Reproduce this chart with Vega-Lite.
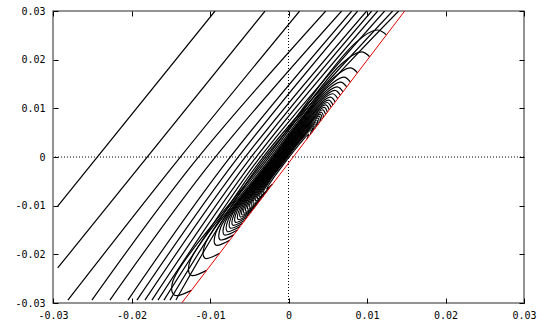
{
  "$schema": "https://vega.github.io/schema/vega-lite/v6.json",
  "width": 471,
  "height": 292,
  "autosize": "none",
  "padding": {"left": 53, "top": 11, "right": 21, "bottom": 24},
  "background": "white",
  "config": {
    "view": {"stroke": "#707070", "strokeWidth": 1.5},
    "axis": {
      "labelFont": "DejaVu Sans Mono",
      "labelFontSize": 10,
      "labelColor": "#000",
      "labelFlush": false,
      "labelOverlap": false,
      "tickColor": "#000",
      "tickSize": -5,
      "domain": false,
      "grid": false,
      "title": null
    }
  },
  "datasets": {
    "contours": [
      {"c":"L1","i":1,"x":-0.0294,"y":-0.01007},{"c":"L1","i":2,"x":-0.00936,"y":0.03},
      {"c":"L2","i":1,"x":-0.0294,"y":-0.0228},{"c":"L2","i":2,"x":-0.00299,"y":0.03},
      {"c":"L3","i":1,"x":-0.0281,"y":-0.0294},{"c":"L3","i":2,"x":-0.01427,"y":-0.001},{"c":"L3","i":3,"x":0.00142,"y":0.03},
      {"c":"L4","i":1,"x":-0.02504,"y":-0.0294},{"c":"L4","i":2,"x":-0.01197,"y":-0.001},{"c":"L4","i":3,"x":0.00474,"y":0.03},
      {"c":"L5","i":1,"x":-0.02275,"y":-0.0294},{"c":"L5","i":2,"x":-0.00981,"y":-0.001},{"c":"L5","i":3,"x":0.00677,"y":0.03},
      {"c":"L6","i":1,"x":-0.02045,"y":-0.0294},{"c":"L6","i":2,"x":-0.0079,"y":-0.001},{"c":"L6","i":3,"x":0.00805,"y":0.03},
      {"c":"L7","i":1,"x":-0.01931,"y":-0.0294},{"c":"L7","i":2,"x":-0.00688,"y":-0.001},{"c":"L7","i":3,"x":0.00881,"y":0.03},
      {"c":"L8","i":1,"x":-0.01829,"y":-0.0294},{"c":"L8","i":2,"x":-0.00598,"y":-0.001},{"c":"L8","i":3,"x":0.00996,"y":0.03},
      {"c":"L9","i":1,"x":-0.0174,"y":-0.0294},{"c":"L9","i":2,"x":-0.00522,"y":-0.001},{"c":"L9","i":3,"x":0.0106,"y":0.03},
      {"c":"L10","i":1,"x":-0.01663,"y":-0.0294},{"c":"L10","i":2,"x":-0.00458,"y":-0.001},{"c":"L10","i":3,"x":0.01136,"y":0.03},
      {"c":"L11","i":1,"x":-0.01587,"y":-0.0294},{"c":"L11","i":2,"x":-0.00407,"y":-0.001},{"c":"L11","i":3,"x":0.01225,"y":0.03},
      {"c":"L12","i":1,"x":-0.0151,"y":-0.0294},{"c":"L12","i":2,"x":-0.00369,"y":-0.001},{"c":"L12","i":3,"x":0.01327,"y":0.03},
      {"c":"L13","i":1,"x":-0.01434,"y":-0.0294},{"c":"L13","i":2,"x":-0.00344,"y":-0.001},{"c":"L13","i":3,"x":0.01404,"y":0.03},
      {"c":"H1","i":1,"x":-0.01237,"y":-0.0274},{"c":"H1","i":2,"x":-0.0145,"y":-0.0284},{"c":"H1","i":3,"x":-0.0148,"y":-0.0259},{"c":"H1","i":4,"x":-0.00318,"y":-0.001},{"c":"H1","i":5,"x":0.00863,"y":0.0236},{"c":"H1","i":6,"x":0.0113,"y":0.0261},{"c":"H1","i":7,"x":0.01248,"y":0.0251},
      {"c":"H2","i":1,"x":-0.01043,"y":-0.0233},{"c":"H2","i":2,"x":-0.01243,"y":-0.0243},{"c":"H2","i":3,"x":-0.01263,"y":-0.0218},{"c":"H2","i":4,"x":-0.00293,"y":-0.001},{"c":"H2","i":5,"x":0.00673,"y":0.0191},{"c":"H2","i":6,"x":0.00929,"y":0.0216},{"c":"H2","i":7,"x":0.01035,"y":0.0206},
      {"c":"H3","i":1,"x":-0.00877,"y":-0.0198},{"c":"H3","i":2,"x":-0.01064,"y":-0.0208},{"c":"H3","i":3,"x":-0.01072,"y":-0.0183},{"c":"H3","i":4,"x":-0.00267,"y":-0.001},{"c":"H3","i":5,"x":0.00542,"y":0.0158},{"c":"H3","i":6,"x":0.00786,"y":0.0183},{"c":"H3","i":7,"x":0.00879,"y":0.0173},
      {"c":"H4","i":1,"x":-0.00749,"y":-0.0171},{"c":"H4","i":2,"x":-0.00927,"y":-0.0181},{"c":"H4","i":3,"x":-0.00926,"y":-0.0156},{"c":"H4","i":4,"x":-0.00248,"y":-0.001},{"c":"H4","i":5,"x":0.0047,"y":0.0139},{"c":"H4","i":6,"x":0.00706,"y":0.0164},{"c":"H4","i":7,"x":0.00789,"y":0.0154},
      {"c":"G1","i":1,"x":-0.00697,"y":-0.016},{"c":"G1","i":2,"x":-0.00871,"y":-0.017},{"c":"G1","i":3,"x":-0.00865,"y":-0.0145},{"c":"G1","i":4,"x":-0.00239,"y":-0.001},{"c":"G1","i":5,"x":0.00432,"y":0.0129},{"c":"G1","i":6,"x":0.00663,"y":0.0154},{"c":"G1","i":7,"x":0.00742,"y":0.0144},
      {"c":"H5","i":1,"x":-0.0065,"y":-0.015},{"c":"H5","i":2,"x":-0.00818,"y":-0.016},{"c":"H5","i":3,"x":-0.00809,"y":-0.0135},{"c":"H5","i":4,"x":-0.00229,"y":-0.001},{"c":"H5","i":5,"x":0.00393,"y":0.0119},{"c":"H5","i":6,"x":0.00621,"y":0.0144},{"c":"H5","i":7,"x":0.00694,"y":0.0134},
      {"c":"G2","i":1,"x":-0.00617,"y":-0.0143},{"c":"G2","i":2,"x":-0.0078,"y":-0.0153},{"c":"G2","i":3,"x":-0.00766,"y":-0.0128},{"c":"G2","i":4,"x":-0.00219,"y":-0.001},{"c":"G2","i":5,"x":0.0037,"y":0.0112},{"c":"G2","i":6,"x":0.00592,"y":0.0137},{"c":"G2","i":7,"x":0.00661,"y":0.0127},
      {"c":"H6","i":1,"x":-0.00584,"y":-0.0136},{"c":"H6","i":2,"x":-0.00743,"y":-0.0146},{"c":"H6","i":3,"x":-0.00725,"y":-0.0121},{"c":"H6","i":4,"x":-0.0021,"y":-0.001},{"c":"H6","i":5,"x":0.00345,"y":0.0105},{"c":"H6","i":6,"x":0.00563,"y":0.013},{"c":"H6","i":7,"x":0.00628,"y":0.012},
      {"c":"G3","i":1,"x":-0.00555,"y":-0.013},{"c":"G3","i":2,"x":-0.0071,"y":-0.014},{"c":"G3","i":3,"x":-0.00686,"y":-0.0115},{"c":"G3","i":4,"x":-0.002,"y":-0.001},{"c":"G3","i":5,"x":0.00322,"y":0.0098},{"c":"G3","i":6,"x":0.00535,"y":0.0123},{"c":"G3","i":7,"x":0.00595,"y":0.0113},
      {"c":"H7","i":1,"x":-0.00527,"y":-0.0124},{"c":"H7","i":2,"x":-0.00676,"y":-0.0134},{"c":"H7","i":3,"x":-0.0065,"y":-0.0109},{"c":"H7","i":4,"x":-0.00191,"y":-0.001},{"c":"H7","i":5,"x":0.00301,"y":0.0092},{"c":"H7","i":6,"x":0.00512,"y":0.0117},{"c":"H7","i":7,"x":0.00566,"y":0.0107},
      {"c":"G4","i":1,"x":-0.00499,"y":-0.0118},{"c":"G4","i":2,"x":-0.00643,"y":-0.0128},{"c":"G4","i":3,"x":-0.00612,"y":-0.0103},{"c":"G4","i":4,"x":-0.00181,"y":-0.001},{"c":"G4","i":5,"x":0.00288,"y":0.0087},{"c":"G4","i":6,"x":0.00493,"y":0.0112},{"c":"G4","i":7,"x":0.00543,"y":0.0102},
      {"c":"H8","i":1,"x":-0.00475,"y":-0.0113},{"c":"H8","i":2,"x":-0.00615,"y":-0.0123},{"c":"H8","i":3,"x":-0.0058,"y":-0.0098},{"c":"H8","i":4,"x":-0.00172,"y":-0.001},{"c":"H8","i":5,"x":0.00272,"y":0.0082},{"c":"H8","i":6,"x":0.00473,"y":0.0107},{"c":"H8","i":7,"x":0.00519,"y":0.0097},
      {"c":"G5","i":1,"x":-0.00456,"y":-0.0109},{"c":"G5","i":2,"x":-0.00591,"y":-0.0119},{"c":"G5","i":3,"x":-0.00551,"y":-0.0094},{"c":"G5","i":4,"x":-0.00162,"y":-0.001},{"c":"G5","i":5,"x":0.00258,"y":0.0077},{"c":"G5","i":6,"x":0.00455,"y":0.0102},{"c":"G5","i":7,"x":0.00495,"y":0.0092},
      {"c":"H9","i":1,"x":-0.00437,"y":-0.0105},{"c":"H9","i":2,"x":-0.00567,"y":-0.0115},{"c":"H9","i":3,"x":-0.00524,"y":-0.009},{"c":"H9","i":4,"x":-0.00153,"y":-0.001},{"c":"H9","i":5,"x":0.00243,"y":0.0072},{"c":"H9","i":6,"x":0.00436,"y":0.0097},{"c":"H9","i":7,"x":0.00472,"y":0.0087},
      {"c":"G6","i":1,"x":-0.00418,"y":-0.0101},{"c":"G6","i":2,"x":-0.00543,"y":-0.0111},{"c":"G6","i":3,"x":-0.00495,"y":-0.0086},{"c":"G6","i":4,"x":-0.00143,"y":-0.001},{"c":"G6","i":5,"x":0.00229,"y":0.0067},{"c":"G6","i":6,"x":0.00417,"y":0.0092},{"c":"G6","i":7,"x":0.00448,"y":0.0082},
      {"c":"H10","i":1,"x":-0.00399,"y":-0.0097},{"c":"H10","i":2,"x":-0.00519,"y":-0.0107},{"c":"H10","i":3,"x":-0.00467,"y":-0.0082},{"c":"H10","i":4,"x":-0.00133,"y":-0.001},{"c":"H10","i":5,"x":0.00219,"y":0.0063},{"c":"H10","i":6,"x":0.00404,"y":0.0088},{"c":"H10","i":7,"x":0.00429,"y":0.0078},
      {"c":"G7","i":1,"x":-0.0038,"y":-0.0093},{"c":"G7","i":2,"x":-0.00496,"y":-0.0103},{"c":"G7","i":3,"x":-0.00438,"y":-0.0078},{"c":"G7","i":4,"x":-0.00123,"y":-0.001},{"c":"G7","i":5,"x":0.0021,"y":0.0059},{"c":"G7","i":6,"x":0.0039,"y":0.0084},{"c":"G7","i":7,"x":0.0041,"y":0.0074},
      {"c":"H11","i":1,"x":-0.00361,"y":-0.0089},{"c":"H11","i":2,"x":-0.00473,"y":-0.0099},{"c":"H11","i":3,"x":-0.00411,"y":-0.0074},{"c":"H11","i":4,"x":-0.00114,"y":-0.001},{"c":"H11","i":5,"x":0.00199,"y":0.0055},{"c":"H11","i":6,"x":0.00375,"y":0.008},{"c":"H11","i":7,"x":0.00391,"y":0.007},
      {"c":"G8","i":1,"x":-0.00342,"y":-0.0085},{"c":"G8","i":2,"x":-0.00449,"y":-0.0095},{"c":"G8","i":3,"x":-0.00382,"y":-0.007},{"c":"G8","i":4,"x":-0.00104,"y":-0.001},{"c":"G8","i":5,"x":0.0019,"y":0.0051},{"c":"G8","i":6,"x":0.00361,"y":0.0076},{"c":"G8","i":7,"x":0.00372,"y":0.0066},
      {"c":"H12","i":1,"x":-0.00319,"y":-0.008},{"c":"H12","i":2,"x":-0.0042,"y":-0.009},{"c":"H12","i":3,"x":-0.00351,"y":-0.0065},{"c":"H12","i":4,"x":-0.00095,"y":-0.001},{"c":"H12","i":5,"x":0.0018,"y":0.0047},{"c":"H12","i":6,"x":0.00347,"y":0.0072},{"c":"H12","i":7,"x":0.00353,"y":0.0062},
      {"c":"G9","i":1,"x":-0.003,"y":-0.0076},{"c":"G9","i":2,"x":-0.00396,"y":-0.0086},{"c":"G9","i":3,"x":-0.00322,"y":-0.0061},{"c":"G9","i":4,"x":-0.00085,"y":-0.001},{"c":"G9","i":5,"x":0.00171,"y":0.0043},{"c":"G9","i":6,"x":0.00333,"y":0.0068},{"c":"G9","i":7,"x":0.00335,"y":0.0058},
      {"c":"H13","i":1,"x":-0.00281,"y":-0.0072},{"c":"H13","i":2,"x":-0.00373,"y":-0.0082},{"c":"H13","i":3,"x":-0.00295,"y":-0.0057},{"c":"H13","i":4,"x":-0.00076,"y":-0.001},{"c":"H13","i":5,"x":0.0016,"y":0.0039},{"c":"H13","i":6,"x":0.00318,"y":0.0064},{"c":"H13","i":7,"x":0.00316,"y":0.0054},
      {"c":"G10","i":1,"x":-0.00262,"y":-0.0068},{"c":"G10","i":2,"x":-0.00349,"y":-0.0078},{"c":"G10","i":3,"x":-0.00267,"y":-0.0053},{"c":"G10","i":4,"x":-0.00067,"y":-0.001},{"c":"G10","i":5,"x":0.0015,"y":0.0035},{"c":"G10","i":6,"x":0.00304,"y":0.006},{"c":"G10","i":7,"x":0.00297,"y":0.005},
      {"c":"H14","i":1,"x":-0.00243,"y":-0.0064},{"c":"H14","i":2,"x":-0.00325,"y":-0.0074},{"c":"H14","i":3,"x":-0.00239,"y":-0.0049},{"c":"H14","i":4,"x":-0.00057,"y":-0.001},{"c":"H14","i":5,"x":0.0014,"y":0.0031},{"c":"H14","i":6,"x":0.0029,"y":0.0056},{"c":"H14","i":7,"x":0.00278,"y":0.0046},
      {"c":"H15","i":1,"x":-0.00205,"y":-0.0056},{"c":"H15","i":2,"x":-0.00278,"y":-0.0066},{"c":"H15","i":3,"x":-0.00182,"y":-0.0041},{"c":"H15","i":4,"x":-0.00038,"y":-0.001},{"c":"H15","i":5,"x":0.00116,"y":0.0022},{"c":"H15","i":6,"x":0.00257,"y":0.0047},{"c":"H15","i":7,"x":0.00235,"y":0.0037}
    ],
    "red": [
      {"x": -0.0136, "y": -0.03},
      {"x": 0.0148, "y": 0.03}
    ],
    "zero": [{"v": 0}]
  },
  "resolve": {"axis": {"x": "independent", "y": "independent"}},
  "layer": [
    {
      "data": {"name": "zero"},
      "mark": {"type": "rule", "color": "#000", "strokeWidth": 1, "strokeDash": [1, 2]},
      "encoding": {
        "x": {
          "field": "v", "type": "quantitative",
          "scale": {"domain": [-0.03, 0.03], "nice": false, "zero": false},
          "axis": {
            "orient": "bottom",
            "values": [-0.03, -0.02, -0.01, 0, 0.01, 0.02, 0.03],
            "labelPadding": 12,
            "labelExpr": "abs(datum.value) < 1e-9 ? '0' : replace(format(datum.value, '.2f'), '\u2212', '-')"
          }
        }
      }
    },
    {
      "data": {"name": "zero"},
      "mark": {"type": "rule", "color": "#000", "strokeWidth": 1, "strokeDash": [1, 2]},
      "encoding": {
        "y": {
          "field": "v", "type": "quantitative",
          "scale": {"domain": [-0.03, 0.03], "nice": false, "zero": false},
          "axis": {
            "orient": "left",
            "values": [-0.03, -0.02, -0.01, 0, 0.01, 0.02, 0.03],
            "labelPadding": 13,
            "labelExpr": "abs(datum.value) < 1e-9 ? '0' : replace(format(datum.value, '.2f'), '\u2212', '-')"
          }
        }
      }
    },
    {
      "data": {"name": "contours"},
      "mark": {"type": "line", "color": "#000", "strokeWidth": 1.2, "interpolate": "catmull-rom", "clip": true},
      "encoding": {
        "x": {"field": "x", "type": "quantitative", "scale": {"domain": [-0.03, 0.03], "nice": false, "zero": false},
          "axis": {"orient": "top", "values": [-0.03, -0.02, -0.01, 0, 0.01, 0.02, 0.03], "labels": false}},
        "y": {"field": "y", "type": "quantitative", "scale": {"domain": [-0.03, 0.03], "nice": false, "zero": false},
          "axis": {"orient": "right", "values": [-0.03, -0.02, -0.01, 0, 0.01, 0.02, 0.03], "labels": false}},
        "detail": {"field": "c"},
        "order": {"field": "i", "type": "quantitative"}
      }
    },
    {
      "data": {"name": "red"},
      "mark": {"type": "line", "color": "#e00000", "strokeWidth": 1, "clip": true},
      "encoding": {
        "x": {"field": "x", "type": "quantitative", "axis": null},
        "y": {"field": "y", "type": "quantitative", "axis": null}
      }
    }
  ]
}
